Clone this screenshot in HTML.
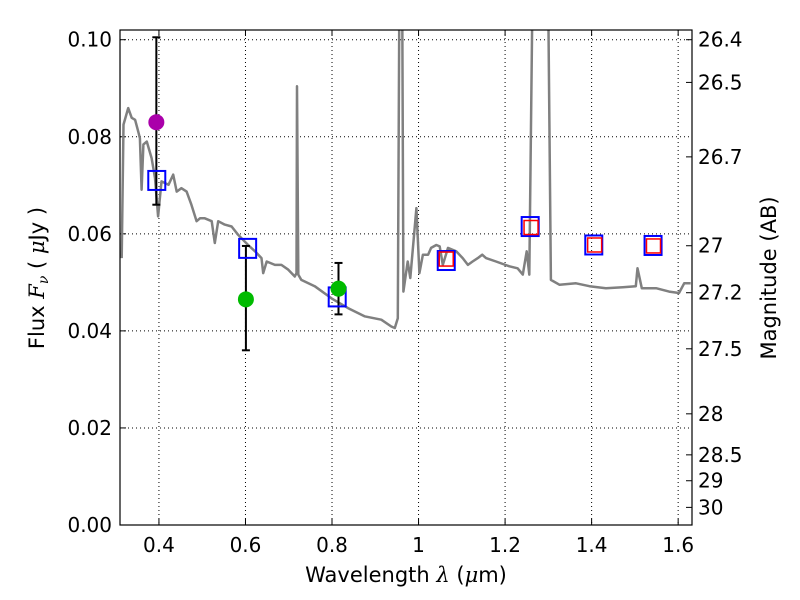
<!DOCTYPE html>
<html><head><meta charset="utf-8"><style>
body{margin:0;background:#fff;}
svg{display:block;font-family:"DejaVu Sans","Liberation Sans",sans-serif;}
</style></head><body>
<svg id="c" width="800" height="600"></svg>
<script>
const specLam=[0.314,0.318,0.329,0.337,0.345,0.352,0.356,0.360,0.364,0.372,0.383,0.391,0.398,0.406,0.422,0.433,0.441,0.452,0.464,0.475,0.487,0.495,0.506,0.522,0.529,0.537,0.552,0.568,0.583,0.606,0.622,0.637,0.641,0.649,0.668,0.683,0.699,0.714,0.718,0.719,0.722,0.729,0.760,0.799,0.837,0.875,0.914,0.937,0.945,0.952,0.956,0.962,0.965,0.975,0.981,0.995,1.002,1.010,1.022,1.029,1.041,1.049,1.056,1.068,1.087,1.102,1.114,1.125,1.137,1.147,1.156,1.179,1.210,1.229,1.241,1.250,1.256,1.264,1.299,1.306,1.326,1.364,1.395,1.433,1.472,1.502,1.506,1.516,1.549,1.579,1.602,1.614,1.629];
const specFlux=[0.055,0.0825,0.0859,0.0839,0.0835,0.0811,0.0797,0.0691,0.0784,0.0790,0.0756,0.0715,0.0636,0.0708,0.0701,0.0722,0.0687,0.0694,0.0687,0.0660,0.0626,0.0632,0.0632,0.0626,0.0581,0.0626,0.0619,0.0615,0.0598,0.0577,0.0564,0.0550,0.0519,0.0543,0.0536,0.0536,0.0526,0.0512,0.0519,0.0904,0.0516,0.0505,0.0492,0.0467,0.0447,0.0430,0.0423,0.0409,0.0406,0.0426,0.115,0.115,0.0481,0.0543,0.0509,0.0653,0.0519,0.0557,0.0557,0.0571,0.0577,0.0574,0.0536,0.0571,0.0564,0.0550,0.0536,0.0543,0.0550,0.0557,0.0550,0.0543,0.0533,0.0529,0.0516,0.0564,0.0516,0.115,0.115,0.0505,0.0495,0.0498,0.0492,0.0488,0.0490,0.0492,0.0529,0.0488,0.0488,0.0481,0.0478,0.0498,0.0498];
const blueLam=[0.395,0.605,0.812,1.064,1.258,1.405,1.542];
const blueFlux=[0.071,0.057,0.047,0.0545,0.0615,0.0577,0.0576];
const redLam=[1.064,1.260,1.407,1.543];
const redFlux=[0.0548,0.0613,0.0577,0.0575];
const obsLam=[0.394,0.601,0.815];
const obsFlux=[0.083,0.0465,0.0487];
const obsLo=[0.066,0.036,0.0434];
const obsHi=[0.1005,0.0575,0.054];
const obsColor=['#aa00aa','#00bb00','#00bb00'];
const xTicks=[0.4,0.6,0.8,1.0,1.2,1.4,1.6];
const xTickLabels=['0.4','0.6','0.8','1','1.2','1.4','1.6'];
const yTicks=[0,0.02,0.04,0.06,0.08,0.10];
const yTickLabels=['0.00','0.02','0.04','0.06','0.08','0.10'];
const magTicks=[26.4,26.5,26.7,27,27.2,27.5,28,28.5,29,30];
const magTickLabels=['26.4','26.5','26.7','27','27.2','27.5','28','28.5','29','30'];

const L=120,R=692,T=30,B=525;
const xmin=0.31,xmax=1.632,ymin=0,ymax=0.102;
const X=v=>L+(v-xmin)/(xmax-xmin)*(R-L);
const Y=v=>B-(v-ymin)/(ymax-ymin)*(B-T);
const svg=document.getElementById('c');
const NS='http://www.w3.org/2000/svg';
function mk(tag,at,parent){const e=document.createElementNS(NS,tag);for(const k in at)e.setAttribute(k,at[k]);(parent||svg).appendChild(e);return e;}
const defs=mk('defs',{});const cp=mk('clipPath',{id:'clip'},defs);mk('rect',{x:L,y:T,width:R-L,height:B-T},cp);

xTicks.forEach((t,i)=>{
 const g=mk('line',{x1:X(t),x2:X(t),y1:T,y2:B,stroke:'#000','stroke-width':1,'stroke-dasharray':'1,3'});
 
 
 mk('line',{x1:X(t),x2:X(t),y1:B,y2:B-6,stroke:'#000'});
 mk('line',{x1:X(t),x2:X(t),y1:T,y2:T+6,stroke:'#000'});
 const tx=mk('text',{x:X(t),y:B+27,'text-anchor':'middle','font-size':20});
 tx.textContent=xTickLabels[i];
 
 
});
yTicks.forEach((t,i)=>{
 const g=mk('line',{x1:L,x2:R,y1:Y(t),y2:Y(t),stroke:'#000','stroke-width':1,'stroke-dasharray':'1,3'});
 
 
 mk('line',{x1:L,x2:L+6,y1:Y(t),y2:Y(t),stroke:'#000'});
 const tx=mk('text',{x:L-8,y:Y(t)+7,'text-anchor':'end','font-size':20});
 tx.textContent=yTickLabels[i];
 
 
});
magTicks.forEach((m,i)=>{
 const f=Math.pow(10,(23.9-m)/2.5);const y=Y(f);
 mk('line',{x1:R,x2:R-6,y1:y,y2:y,stroke:'#000'});
 const tx=mk('text',{x:R+6,y:y+7,'font-size':20});
 tx.textContent=magTickLabels[i];
 
 
});

const gp=mk('g',{'clip-path':'url(#clip)'});
const d=specLam.map((l,i)=>(i?'L':'M')+X(l).toFixed(1)+','+Y(specFlux[i]).toFixed(1)).join('');
const sp=mk('path',{d:d,fill:'none',stroke:'#808080','stroke-width':2.5,'stroke-linejoin':'round'},gp);



obsLam.forEach((l,i)=>{
 const x=X(l);
 const e=mk('g',{stroke:'#000','stroke-width':2});
 
 
 mk('line',{x1:x,x2:x,y1:Y(obsLo[i]),y2:Y(obsHi[i])},e);
 mk('line',{x1:x-4,x2:x+4,y1:Y(obsLo[i]),y2:Y(obsLo[i])},e);
 mk('line',{x1:x-4,x2:x+4,y1:Y(obsHi[i]),y2:Y(obsHi[i])},e);
});
blueLam.forEach((l,i)=>{
 const r=mk('rect',{x:X(l)-8.5,y:Y(blueFlux[i])-9.5,width:17,height:19,fill:'none',stroke:'#0000ff','stroke-width':2});
 
 
});
redLam.forEach((l,i)=>{
 const r=mk('rect',{x:X(l)-7,y:Y(redFlux[i])-7,width:14,height:14,fill:'none',stroke:'#ff0000','stroke-width':1.5});
 
 
});
obsLam.forEach((l,i)=>{
 const c=mk('circle',{cx:X(l),cy:Y(obsFlux[i]),r:8,fill:obsColor[i]});
 
 
});

const fr=mk('rect',{x:L,y:T,width:R-L,height:B-T,fill:'none',stroke:'#000','stroke-width':1.2});



const xl=mk('text',{x:406,y:582,'text-anchor':'middle','font-size':21});
xl.innerHTML='Wavelength  <tspan font-style="italic" font-family="DejaVu Serif">λ</tspan> (<tspan font-style="italic" font-family="DejaVu Serif">μ</tspan>m)';


const yl=mk('text',{x:0,y:0,'text-anchor':'middle','font-size':21,transform:'translate(44,278) rotate(-90)'});
yl.innerHTML='Flux  <tspan font-style="italic" font-family="DejaVu Serif">F</tspan><tspan font-style="italic" font-family="DejaVu Serif" font-size="14" dy="4">ν</tspan><tspan dy="-4">  ( </tspan><tspan font-style="italic" font-family="DejaVu Serif">μ</tspan>Jy )';


const ml=mk('text',{x:0,y:0,'text-anchor':'middle','font-size':21,transform:'translate(776,278) rotate(-90)'});
ml.textContent='Magnitude (AB)';


</script>
</body></html>
